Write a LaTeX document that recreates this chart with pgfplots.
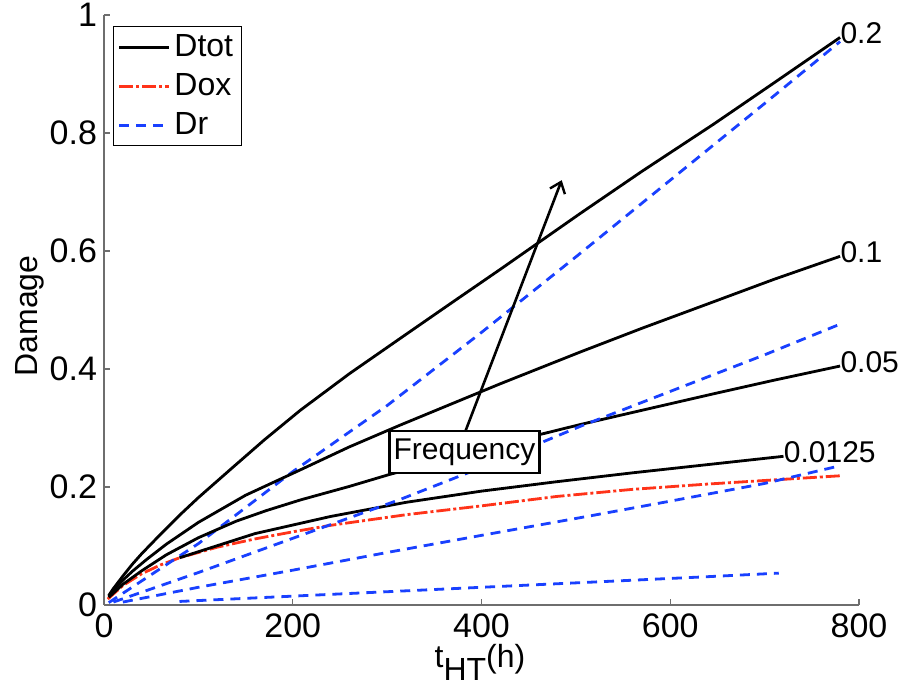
\documentclass[border=0pt]{standalone}
\usepackage{fontspec}
\setmainfont{Liberation Sans}
\usepackage{pgfplots}
\pgfplotsset{compat=1.18}
\usetikzlibrary{arrows.meta}
\definecolor{mblue}{RGB}{25,64,255}
\definecolor{mred}{RGB}{255,51,25}
\definecolor{axgray}{RGB}{110,110,110}
\begin{document}
\begin{tikzpicture}
\begin{axis}[
  scale only axis, width=377.5pt, height=295pt,
  xmin=0, xmax=800, ymin=0, ymax=1,
  xtick={0,200,400,600,800}, ytick={0,0.2,0.4,0.6,0.8,1},
  axis x line*=bottom, axis y line*=left,
  axis line style={draw=axgray, line width=0.8pt, -},
  tick align=inside, major tick length=3pt,
  tick style={draw=axgray, line width=0.6pt},
  ticklabel style={font=\fontsize{17}{20}\selectfont},
  xticklabel style={yshift=-1pt},
  /pgf/number format/assume math mode=true,
  clip=false,
  legend cell align=left,
  legend style={at={(0.012,0.981)}, anchor=north west, draw=black, line width=0.6pt, fill=white,
    font=\fontsize{16}{18}\selectfont, inner sep=2pt, row sep=3pt},
  legend image code/.code={\draw[#1] (0pt,0pt) -- (25pt,0pt);},
  every axis plot/.append style={line width=1.4pt},
]
% Dtot f=0.2
\addplot[black] coordinates {(5,0.016) (10,0.028) (20,0.049) (30,0.069) (40,0.087) (60,0.120) (80,0.152) (100,0.182) (137,0.234) (170,0.280) (208,0.330) (260,0.392) (314,0.452) (370,0.514) (420,0.569) (505,0.664) (570,0.735) (646,0.815) (710,0.885) (780,0.962)};
\addlegendentry{Dtot}
% Dox
\addplot[mred, dash pattern=on 7pt off 1.5pt on 1.5pt off 1.5pt] coordinates {(4,0.010) (20,0.033) (40,0.053) (60,0.068) (80,0.080) (120,0.098) (160,0.112) (200,0.124) (240,0.135) (320,0.153) (400,0.168) (480,0.184) (560,0.196) (640,0.205) (720,0.213) (780,0.219)};
\addlegendentry{Dox}
% Dr f=0.2
\addplot[mblue, dash pattern=on 5pt off 3.5pt] coordinates {(5,0.004) (100,0.104) (200,0.226) (300,0.338) (400,0.462) (500,0.590) (600,0.720) (700,0.850) (780,0.955)};
\addlegendentry{Dr}
% Dtot f=0.1
\addplot[black, forget plot] coordinates {(5,0.014) (10,0.025) (20,0.042) (30,0.057) (45,0.077) (66,0.103) (100,0.140) (150,0.186) (208,0.229) (260,0.268) (314,0.305) (370,0.342) (420,0.375) (505,0.429) (570,0.469) (646,0.514) (710,0.552) (780,0.591)};
% Dtot f=0.05
\addplot[black, forget plot] coordinates {(5,0.013) (20,0.035) (40,0.058) (66,0.085) (100,0.114) (140,0.142) (172,0.160) (208,0.178) (260,0.201) (302,0.221) (360,0.246) (420,0.272) (462,0.289) (505,0.306) (570,0.330) (646,0.358) (710,0.381) (780,0.405)};
% Dtot f=0.0125
\addplot[black, forget plot] coordinates {(80,0.080) (160,0.121) (240,0.150) (320,0.174) (400,0.193) (480,0.209) (560,0.224) (640,0.238) (720,0.252)};
% Dr f=0.1
\addplot[mblue, dash pattern=on 5pt off 3.5pt, forget plot] coordinates {(10,0.005) (100,0.055) (200,0.113) (314,0.179) (400,0.233) (505,0.303) (600,0.362) (700,0.424) (780,0.476)};
% Dr f=0.05
\addplot[mblue, dash pattern=on 5pt off 3.5pt, forget plot] coordinates {(20,0.005) (100,0.030) (200,0.059) (300,0.089) (400,0.118) (515,0.151) (600,0.176) (700,0.206) (780,0.236)};
% Dr f=0.0125
\addplot[mblue, dash pattern=on 5pt off 3.5pt, forget plot] coordinates {(80,0.006) (160,0.012) (240,0.018) (320,0.024) (400,0.030) (480,0.036) (560,0.042) (640,0.048) (715,0.054)};

\draw[-{Straight Barb[length=5pt,width=8pt,line width=1.2pt]}, line width=1.3pt] (axis cs:383,0.2947) -- (axis cs:485,0.72);
\node[draw=black, line width=1.1pt, fill=white, font=\fontsize{15}{18}\selectfont, inner sep=2pt, minimum height=21pt, minimum width=75pt] at (axis cs:382,0.259) {Frequency};

\node[anchor=west, inner sep=0pt, yshift=2pt, font=\fontsize{15}{18}\selectfont] at (axis cs:780,0.962) {0.2};
\node[anchor=west, inner sep=0pt, yshift=2pt, font=\fontsize{15}{18}\selectfont] at (axis cs:780,0.591) {0.1};
\node[anchor=west, inner sep=0pt, yshift=2pt, font=\fontsize{15}{18}\selectfont] at (axis cs:780,0.405) {0.05};
\node[anchor=west, inner sep=0pt, yshift=2pt, font=\fontsize{15}{18}\selectfont] at (axis cs:720,0.252) {0.0125};

\node[rotate=90, font=\fontsize{16}{18}\selectfont] at (axis description cs:-0.098,0.49) {Damage};
\node[anchor=base, font=\fontsize{16}{18}\selectfont, yshift=-31.5pt] at (axis description cs:0.498,0) {t\raisebox{-0.4em}{HT}(h)};

\coordinate (SW) at (rel axis cs:0,0);
\end{axis}
\pgfresetboundingbox
\path[use as bounding box] ([shift={(-52pt,-42.5pt)}]SW) rectangle ([shift={(398.5pt,302.5pt)}]SW);
\end{tikzpicture}
\end{document}
